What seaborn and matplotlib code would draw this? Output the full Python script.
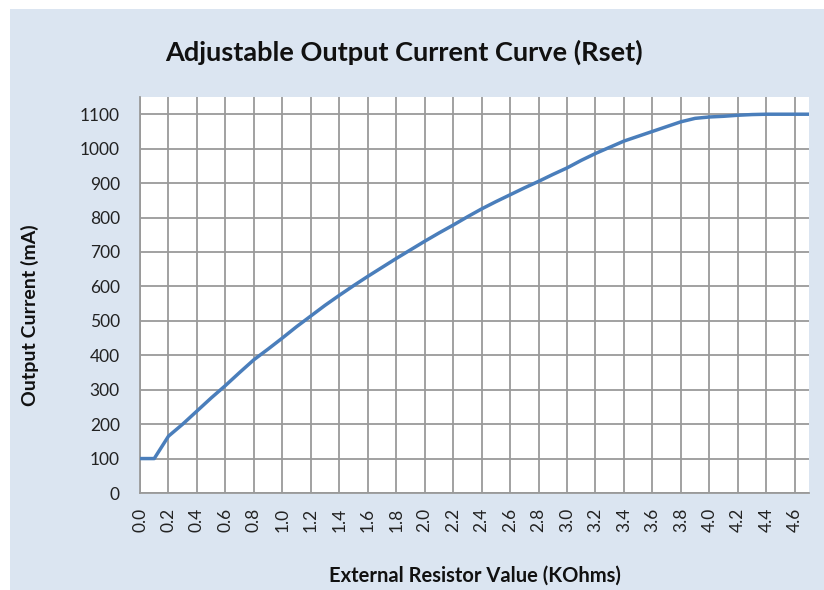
import matplotlib
matplotlib.use("Agg")
import matplotlib.pyplot as plt
from matplotlib.patches import Rectangle
import seaborn as sns
import pandas as pd

# resistor value (KOhms), one category per 0.1
resistor = ["0.0", "0.1", "0.2", "0.3", "0.4", "0.5", "0.6", "0.7", "0.8", "0.9",
            "1.0", "1.1", "1.2", "1.3", "1.4", "1.5", "1.6", "1.7", "1.8", "1.9",
            "2.0", "2.1", "2.2", "2.3", "2.4", "2.5", "2.6", "2.7", "2.8", "2.9",
            "3.0", "3.1", "3.2", "3.3", "3.4", "3.5", "3.6", "3.7", "3.8", "3.9",
            "4.0", "4.1", "4.2", "4.3", "4.4", "4.5", "4.6", "4.7"]
# output current (mA)
current = [100, 100, 165, 200, 238, 276, 312, 350, 387, 418,
           450, 483, 514, 545, 574, 602, 629, 655, 681, 706,
           731, 755, 778, 802, 825, 846, 866, 886, 905, 925,
           944, 966, 986, 1004, 1022, 1036, 1050, 1064, 1078, 1088,
           1092, 1094, 1097, 1099, 1100, 1100, 1100, 1100]
y_ticks = [0, 100, 200, 300, 400, 500, 600, 700, 800, 900, 1000, 1100]

df = pd.DataFrame({"Resistor": resistor, "Current": current})

sns.set_style("white")
plt.rcParams["font.family"] = ["Lato", "DejaVu Sans"]

fig = plt.figure(figsize=(8.24, 5.9), dpi=100)
fig.patch.set_facecolor("white")
fig.add_artist(Rectangle((10 / 824, 0), 814 / 824, 581 / 590, transform=fig.transFigure,
                         facecolor="#dbe5f1", edgecolor="none", zorder=-10))

ax = fig.add_axes([140 / 824, 1 - 493 / 590, 669 / 824, 396 / 590])
ax.set_facecolor("white")

sns.lineplot(data=df, x="Resistor", y="Current", sort=False, color="#4a7ebb",
             linewidth=2.5, ax=ax, zorder=3)

pos = list(range(0, len(resistor), 2))
ax.set_xticks(pos)
ax.set_xticklabels([resistor[i] for i in pos], rotation=90)
ax.set_xlim(0, len(resistor) - 1)
ax.set_yticks(y_ticks)
ax.set_ylim(0, 1150)

ax.grid(True, color="#9a9a9a", linewidth=1.3)
for s in ["top", "right"]:
    ax.spines[s].set_visible(False)
for s in ["left", "bottom"]:
    ax.spines[s].set_color("#9a9a9a")
    ax.spines[s].set_linewidth(1.3)
ax.tick_params(axis="both", length=4.5, width=1.3, color="#9a9a9a",
               labelsize=12.5, labelcolor="#222222")
ax.tick_params(axis="y", pad=10)
ax.tick_params(axis="x", pad=6)
ax.set_xlabel("")
ax.set_ylabel("")

fig.text(404 / 824, 1 - 52 / 590, "Adjustable Output Current Curve (Rset)",
         ha="center", va="center", fontsize=19.5, fontweight="bold", color="#111111")
fig.text(30 / 824, 1 - 315 / 590, "Output Current (mA)", rotation=90,
         ha="center", va="center", fontsize=14, fontweight="bold", color="#111111")
fig.text(475 / 824, 1 - 576 / 590, "External Resistor Value (KOhms)",
         ha="center", va="center", fontsize=14.5, fontweight="bold", color="#111111")

fig.savefig("out.png", dpi=100)
